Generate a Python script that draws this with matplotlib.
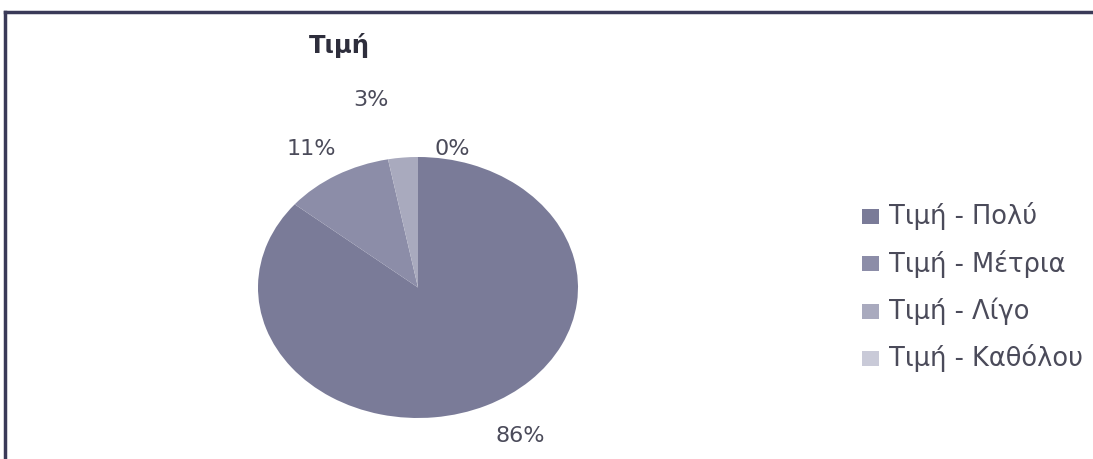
import matplotlib
matplotlib.use("Agg")
import matplotlib.pyplot as plt
from matplotlib.patches import Rectangle
from matplotlib.lines import Line2D

plt.rcParams['font.family'] = ['DejaVu Sans']

# data
title = "Τιμή"
categories = ["Τιμή - Πολύ", "Τιμή - Μέτρια", "Τιμή - Λίγο", "Τιμή - Καθόλου"]
percent = [86, 11, 3, 0]
colors = ["#7a7b98", "#8c8da8", "#a9aabe", "#c9cad8"]

# label anchor points (pixels from top-left)
label_xy = [(520, 436), (311, 149), (371, 100), (452, 149)]

W, H = 1093, 459
fig = plt.figure(figsize=(W / 100, H / 100), dpi=100)
fig.patch.set_facecolor("white")

# overlay axes in pixel units for text, legend and frame
ov = fig.add_axes([0, 0, 1, 1])
ov.set_xlim(0, W)
ov.set_ylim(H, 0)
ov.axis("off")

# pie drawn as an ellipse: axes box matches the ellipse bounds
px0, px1, py0, py1 = 258, 578, 157, 418
pie_ax = fig.add_axes([px0 / W, (H - py1) / H, (px1 - px0) / W, (py1 - py0) / H])
pie_ax.pie(percent, colors=colors, startangle=90, counterclock=False,
           radius=1, wedgeprops=dict(linewidth=0))
pie_ax.set_aspect("auto")
pie_ax.set_xlim(-1, 1)
pie_ax.set_ylim(-1, 1)
pie_ax.axis("off")

txt_col = "#4b4b5a"
for (x, y), p in zip(label_xy, percent):
    ov.text(x, y, f"{p}%", ha="center", va="center", fontsize=16, color=txt_col)

ov.text(339, 45, title, ha="center", va="center", fontsize=17.5,
        fontweight="bold", color="#2e2e3c")

# legend
leg_y0, leg_dy = 216, 47.5
for i, (name, c) in enumerate(zip(categories, colors)):
    y = leg_y0 + i * leg_dy
    ov.add_patch(Rectangle((862, y - 7.5), 17, 15, facecolor=c, edgecolor="none"))
    ov.text(889, y, name, ha="left", va="center", fontsize=18.5, color=txt_col)

# chart frame (top and left edges)
frame_col = "#3a3a58"
ov.add_line(Line2D([5, W], [12, 12], color=frame_col, linewidth=2.5))
ov.add_line(Line2D([5, 5], [12, H], color=frame_col, linewidth=2.5))

fig.savefig("out.png", dpi=100, facecolor="white")
